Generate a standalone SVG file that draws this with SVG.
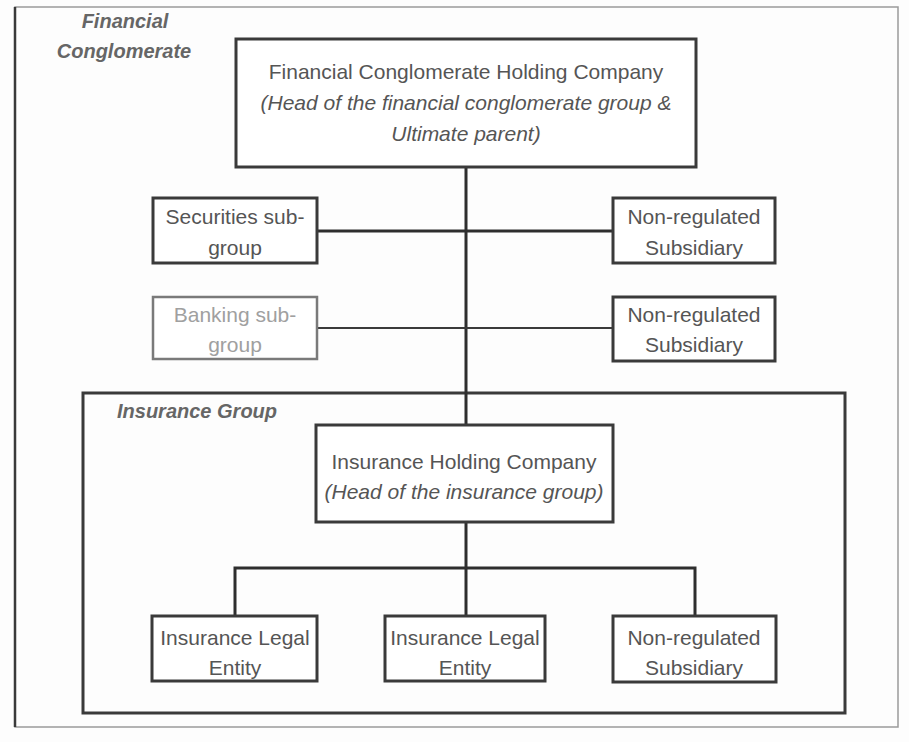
<svg xmlns="http://www.w3.org/2000/svg" width="909" height="742" viewBox="0 0 909 742">
<style>
.box{fill:#ffffff;stroke:#3a3a3a;stroke-width:3}
.light{fill:#ffffff;stroke:#7a7a7a;stroke-width:2.5}
.frame{fill:none;stroke:#3a3a3a;stroke-width:3}
.t{font-family:"Liberation Sans",Arial,sans-serif;font-size:21px;fill:#555;text-anchor:middle}
.ti{font-style:italic}
.tl{fill:#a0a0a0}
.lab{font-family:"Liberation Sans",Arial,sans-serif;font-size:20px;font-weight:bold;font-style:italic;fill:#666}
.c{fill:none;stroke:#2e2e2e;stroke-width:3}
.c2{fill:none;stroke:#3a3a3a;stroke-width:2}
</style>
<rect x="0" y="0" width="909" height="742" fill="#fdfdfd"/>
<g id="financial-conglomerate">
<rect x="15" y="7" width="883" height="720" fill="none" stroke="#9a9a9a" stroke-width="1.5"/>
<line x1="15" y1="7" x2="15" y2="727" stroke="#3a3a3a" stroke-width="2.5"/>
<text class="lab" x="125" y="28" text-anchor="middle">Financial</text>
<text class="lab" x="124" y="58" text-anchor="middle">Conglomerate</text>
</g>
<g id="insurance-group">
<rect class="frame" x="83" y="393" width="762" height="320"/>
<text class="lab" x="117" y="418">Insurance Group</text>
</g>
<g id="connectors">
<line class="c" x1="466" y1="167" x2="466" y2="425"/>
<line class="c" x1="317" y1="231" x2="613" y2="231"/>
<line class="c2" x1="317" y1="328" x2="613" y2="328"/>
<line class="c" x1="466" y1="522" x2="466" y2="616"/>
<polyline class="c" points="235,616 235,568 695,568 695,616"/>
</g>
<g id="fc-holding">
<rect class="box" x="236" y="39" width="460" height="128"/>
<text class="t" x="466" y="79">Financial Conglomerate Holding Company</text>
<text class="t ti" x="466" y="110">(Head of the financial conglomerate group &amp;</text>
<text class="t ti" x="466" y="141">Ultimate parent)</text>
</g>
<g id="securities">
<rect class="box" x="153" y="198" width="164" height="65"/>
<text class="t" x="235" y="224">Securities sub-</text>
<text class="t" x="235" y="255">group</text>
</g>
<g id="nonreg-1">
<rect class="box" x="613" y="198" width="162" height="65"/>
<text class="t" x="694" y="224">Non-regulated</text>
<text class="t" x="694" y="255">Subsidiary</text>
</g>
<g id="banking">
<rect class="light" x="153" y="297" width="164" height="62"/>
<text class="t tl" x="235" y="322">Banking sub-</text>
<text class="t tl" x="235" y="352">group</text>
</g>
<g id="nonreg-2">
<rect class="box" x="613" y="297" width="162" height="64"/>
<text class="t" x="694" y="322">Non-regulated</text>
<text class="t" x="694" y="352">Subsidiary</text>
</g>
<g id="ins-holding">
<rect class="box" x="316" y="425" width="297" height="97"/>
<text class="t" x="464" y="469">Insurance Holding Company</text>
<text class="t ti" x="464" y="499">(Head of the insurance group)</text>
</g>
<g id="ins-legal-1">
<rect class="box" x="152" y="616" width="165" height="65"/>
<text class="t" x="235" y="645">Insurance Legal</text>
<text class="t" x="235" y="675">Entity</text>
</g>
<g id="ins-legal-2">
<rect class="box" x="385" y="616" width="160" height="65"/>
<text class="t" x="465" y="645">Insurance Legal</text>
<text class="t" x="465" y="675">Entity</text>
</g>
<g id="nonreg-3">
<rect class="box" x="613" y="616" width="163" height="66"/>
<text class="t" x="694" y="645">Non-regulated</text>
<text class="t" x="694" y="675">Subsidiary</text>
</g>
</svg>
